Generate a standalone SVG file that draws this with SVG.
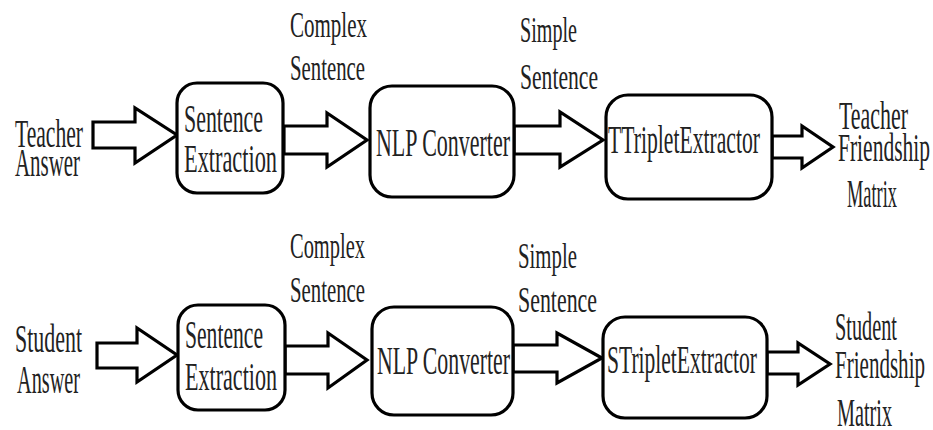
<svg xmlns="http://www.w3.org/2000/svg" width="933" height="430" viewBox="0 0 933 430">
  <style>
    .box { fill: #fff; stroke: #000; stroke-width: 3.2; }
    .arrow { fill: #fff; stroke: #000; stroke-width: 3.2; stroke-linejoin: miter; }
    .t { font-family: 'Liberation Serif', 'Times New Roman', serif; font-size: 40px; fill: #222; }
    .s { font-size: 36px; }
  </style>
  <rect width="933" height="430" fill="#fff"/>

  <!-- block arrows -->
  <g id="connectors">
    <polygon class="arrow" points="93,122 135,122 135,108 177,135 135,163 135,148 93,148"/>
    <polygon class="arrow" points="284,126 327,126 327,113 367,140 327,167 327,154 284,154"/>
    <polygon class="arrow" points="514,126 560,126 560,112 603,140 560,167 560,154 514,154"/>
    <polygon class="arrow" points="772,136 802,136 802,126 833,147 802,168 802,158 772,158"/>

    <polygon class="arrow" points="97,343 137,343 137,328 177,355 137,382 137,368 97,368"/>
    <polygon class="arrow" points="285,346 328,346 328,333 367,360 328,388 328,374 285,374"/>
    <polygon class="arrow" points="513,345 557,345 557,333 602,358 557,383 557,372 513,372"/>
    <polygon class="arrow" points="767,352 798,352 798,343 830,364 798,385 798,374 767,374"/>
  </g>

  <g class="t">
  <!-- teacher pipeline -->
  <g id="teacher-answer">
    <text x="15" y="147" textLength="68" lengthAdjust="spacingAndGlyphs">Teacher</text>
    <text x="15" y="176" textLength="65" lengthAdjust="spacingAndGlyphs">Answer</text>
  </g>
  <g id="teacher-sentence-extraction">
    <rect class="box" x="177" y="83" width="106" height="110" rx="20"/>
    <text x="184" y="132" textLength="79" lengthAdjust="spacingAndGlyphs">Sentence</text>
    <text x="184" y="172" textLength="93" lengthAdjust="spacingAndGlyphs">Extraction</text>
  </g>
  <g id="teacher-complex-label">
    <text class="s" x="290" y="37" textLength="77" lengthAdjust="spacingAndGlyphs">Complex</text>
    <text class="s" x="290" y="80" textLength="75" lengthAdjust="spacingAndGlyphs">Sentence</text>
  </g>
  <g id="teacher-nlp-converter">
    <rect class="box" x="370" y="86" width="144" height="111" rx="22"/>
    <text x="376" y="156" textLength="134" lengthAdjust="spacingAndGlyphs">NLP Converter</text>
  </g>
  <g id="teacher-simple-label">
    <text class="s" x="520" y="42" textLength="57" lengthAdjust="spacingAndGlyphs">Simple</text>
    <text class="s" x="520" y="89" textLength="78" lengthAdjust="spacingAndGlyphs">Sentence</text>
  </g>
  <g id="teacher-triplet-extractor">
    <rect class="box" x="606" y="95" width="166" height="104" rx="22"/>
    <text x="608" y="153" textLength="152" lengthAdjust="spacingAndGlyphs">TTripletExtractor</text>
  </g>
  <g id="teacher-friendship-matrix">
    <text x="839" y="129" textLength="69" lengthAdjust="spacingAndGlyphs">Teacher</text>
    <text x="838" y="161" textLength="92" lengthAdjust="spacingAndGlyphs">Friendship</text>
    <text x="847" y="207" textLength="50" lengthAdjust="spacingAndGlyphs">Matrix</text>
  </g>

  <!-- student pipeline -->
  <g id="student-answer">
    <text x="15" y="352" textLength="67" lengthAdjust="spacingAndGlyphs">Student</text>
    <text x="17" y="393" textLength="63" lengthAdjust="spacingAndGlyphs">Answer</text>
  </g>
  <g id="student-sentence-extraction">
    <rect class="box" x="178" y="305" width="107" height="105" rx="20"/>
    <text x="185" y="348" textLength="78" lengthAdjust="spacingAndGlyphs">Sentence</text>
    <text x="185" y="390" textLength="92" lengthAdjust="spacingAndGlyphs">Extraction</text>
  </g>
  <g id="student-complex-label">
    <text class="s" x="290" y="258" textLength="75" lengthAdjust="spacingAndGlyphs">Complex</text>
    <text class="s" x="290" y="302" textLength="75" lengthAdjust="spacingAndGlyphs">Sentence</text>
  </g>
  <g id="student-nlp-converter">
    <rect class="box" x="372" y="307" width="141" height="108" rx="22"/>
    <text x="377" y="374" textLength="133" lengthAdjust="spacingAndGlyphs">NLP Converter</text>
  </g>
  <g id="student-simple-label">
    <text class="s" x="518" y="268" textLength="59" lengthAdjust="spacingAndGlyphs">Simple</text>
    <text class="s" x="518" y="312" textLength="79" lengthAdjust="spacingAndGlyphs">Sentence</text>
  </g>
  <g id="student-triplet-extractor">
    <rect class="box" x="603" y="317" width="164" height="101" rx="22"/>
    <text x="607" y="373" textLength="150" lengthAdjust="spacingAndGlyphs">STripletExtractor</text>
  </g>
  <g id="student-friendship-matrix">
    <text x="835" y="340" textLength="62" lengthAdjust="spacingAndGlyphs">Student</text>
    <text x="835" y="378" textLength="90" lengthAdjust="spacingAndGlyphs">Friendship</text>
    <text x="837" y="426" textLength="55" lengthAdjust="spacingAndGlyphs">Matrix</text>
  </g>
  </g>
</svg>
